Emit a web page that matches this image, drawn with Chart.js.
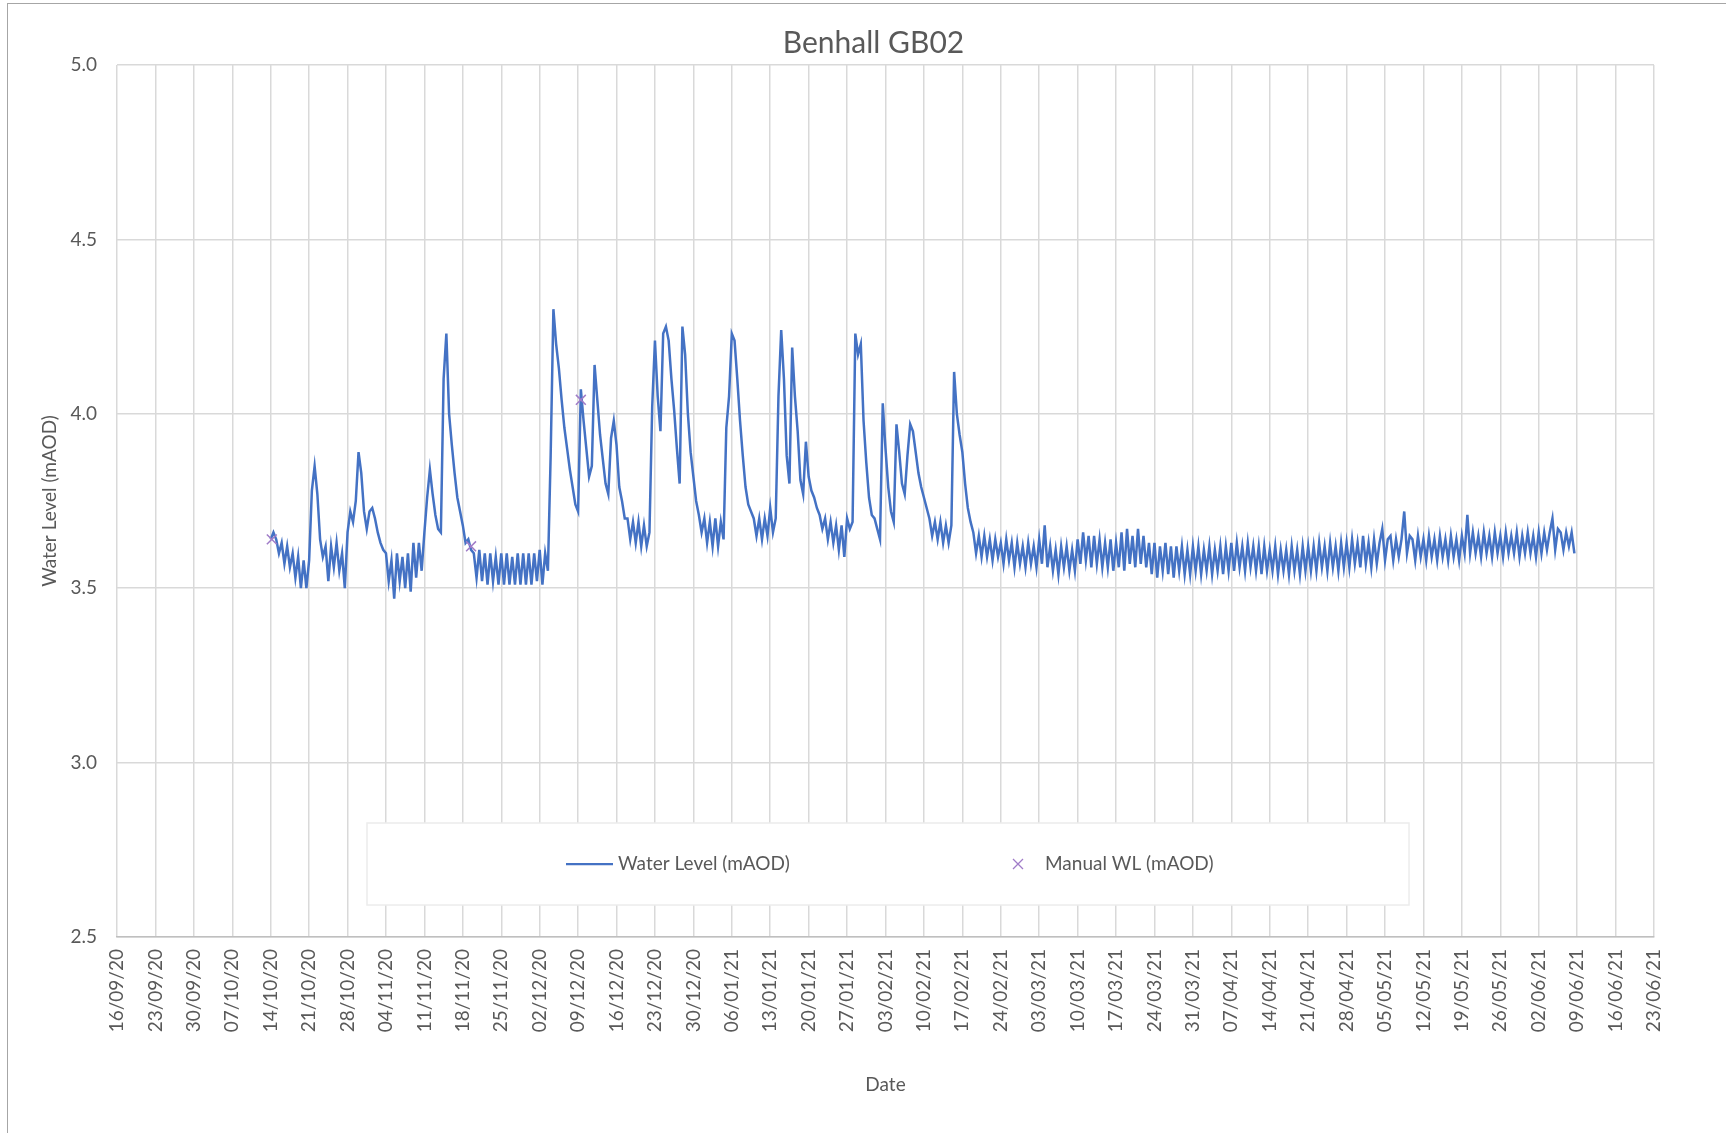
<!DOCTYPE html>
<html>
<head>
<meta charset="utf-8">
<title>Benhall GB02</title>
<script src="https://cdn.jsdelivr.net/npm/chart.js@4.4.0/dist/chart.umd.min.js"></script>
<style>
  html, body { margin: 0; padding: 0; background: #ffffff; overflow: hidden; }
  canvas { display: block; }
</style>
</head>
<body>
<canvas id="levelChart" width="1726" height="1133"></canvas>
<script>

// weekly date ticks, 16/09/20 .. 23/06/21 (x axis counts days from 16/09/20)
const tickLabels = [
  "16/09/20", "23/09/20", "30/09/20", "07/10/20", "14/10/20", "21/10/20",
  "28/10/20", "04/11/20", "11/11/20", "18/11/20", "25/11/20", "02/12/20",
  "09/12/20", "16/12/20", "23/12/20", "30/12/20", "06/01/21", "13/01/21",
  "20/01/21", "27/01/21", "03/02/21", "10/02/21", "17/02/21", "24/02/21",
  "03/03/21", "10/03/21", "17/03/21", "24/03/21", "31/03/21", "07/04/21",
  "14/04/21", "21/04/21", "28/04/21", "05/05/21", "12/05/21", "19/05/21",
  "26/05/21", "02/06/21", "09/06/21", "16/06/21", "23/06/21"
];

const yTicks = [2.5, 3.0, 3.5, 4.0, 4.5, 5.0];

const chartTitle = "Benhall GB02";

// logger readings, one every half day starting 14/10/20 (day 28)
const levelStartDay = 28;
const levelStepDays = 0.5;
const waterLevel = [
  3.64, 3.66, 3.64, 3.60, 3.63, 3.57, 3.62, 3.56, 3.60, 3.53, 3.59, 3.50, 3.58, 3.50,
  3.58, 3.78, 3.85, 3.77, 3.64, 3.59, 3.62, 3.52, 3.62, 3.56, 3.63, 3.55, 3.60, 3.50,
  3.66, 3.72, 3.69, 3.75, 3.89, 3.83, 3.72, 3.67, 3.72, 3.73, 3.70, 3.66, 3.63, 3.61,
  3.60, 3.52, 3.58, 3.47, 3.60, 3.52, 3.59, 3.50, 3.60, 3.49, 3.63, 3.53, 3.63, 3.55,
  3.66, 3.76, 3.84, 3.77, 3.71, 3.67, 3.66, 4.10, 4.23, 4.00, 3.91, 3.83, 3.76, 3.72,
  3.68, 3.63, 3.64, 3.61, 3.60, 3.53, 3.61, 3.52, 3.60, 3.51, 3.60, 3.52, 3.59, 3.51,
  3.60, 3.51, 3.60, 3.51, 3.59, 3.51, 3.60, 3.51, 3.60, 3.51, 3.60, 3.51, 3.60, 3.52,
  3.61, 3.51, 3.60, 3.55, 3.88, 4.30, 4.20, 4.13, 4.04, 3.96, 3.90, 3.84, 3.79, 3.74,
  3.72, 4.07, 3.98, 3.90, 3.82, 3.85, 4.14, 4.04, 3.94, 3.87, 3.80, 3.77, 3.93, 3.98,
  3.91, 3.79, 3.75, 3.70, 3.70, 3.64, 3.69, 3.63, 3.69, 3.62, 3.68, 3.62, 3.66, 4.02,
  4.21, 4.05, 3.95, 4.23, 4.25, 4.21, 4.10, 4.01, 3.90, 3.80, 4.25, 4.17, 4.00, 3.89,
  3.82, 3.75, 3.71, 3.66, 3.70, 3.63, 3.69, 3.62, 3.70, 3.62, 3.69, 3.64, 3.96, 4.05,
  4.23, 4.21, 4.10, 3.98, 3.88, 3.79, 3.74, 3.72, 3.70, 3.65, 3.70, 3.64, 3.70, 3.65,
  3.73, 3.66, 3.70, 4.05, 4.24, 4.10, 3.88, 3.80, 4.19, 4.05, 3.95, 3.81, 3.77, 3.92,
  3.82, 3.78, 3.76, 3.73, 3.71, 3.67, 3.70, 3.64, 3.69, 3.63, 3.68, 3.61, 3.68, 3.59,
  3.70, 3.67, 3.69, 4.23, 4.17, 4.20, 3.98, 3.86, 3.76, 3.71, 3.70, 3.67, 3.64, 4.03,
  3.90, 3.79, 3.72, 3.69, 3.97, 3.89, 3.80, 3.77, 3.88, 3.97, 3.95, 3.89, 3.83, 3.79,
  3.76, 3.73, 3.70, 3.65, 3.69, 3.64, 3.69, 3.63, 3.68, 3.63, 3.68, 4.12, 4.00, 3.94,
  3.89, 3.80, 3.73, 3.69, 3.66, 3.60, 3.65, 3.59, 3.65, 3.59, 3.64, 3.58, 3.64, 3.59,
  3.63, 3.57, 3.64, 3.58, 3.63, 3.56, 3.63, 3.57, 3.62, 3.56, 3.63, 3.57, 3.62, 3.56,
  3.64, 3.57, 3.68, 3.56, 3.62, 3.55, 3.61, 3.54, 3.62, 3.56, 3.62, 3.55, 3.61, 3.55,
  3.64, 3.57, 3.66, 3.58, 3.65, 3.56, 3.65, 3.57, 3.64, 3.56, 3.63, 3.56, 3.64, 3.55,
  3.63, 3.56, 3.66, 3.55, 3.67, 3.57, 3.65, 3.56, 3.67, 3.57, 3.65, 3.56, 3.63, 3.54,
  3.63, 3.53, 3.62, 3.55, 3.63, 3.54, 3.62, 3.53, 3.62, 3.55, 3.62, 3.54, 3.61, 3.54,
  3.62, 3.55, 3.62, 3.54, 3.61, 3.55, 3.62, 3.54, 3.61, 3.55, 3.62, 3.54, 3.62, 3.55,
  3.63, 3.55, 3.63, 3.56, 3.62, 3.55, 3.63, 3.56, 3.62, 3.55, 3.62, 3.54, 3.62, 3.55,
  3.61, 3.55, 3.62, 3.54, 3.61, 3.55, 3.61, 3.54, 3.62, 3.55, 3.61, 3.54, 3.62, 3.55,
  3.62, 3.55, 3.62, 3.55, 3.63, 3.56, 3.62, 3.55, 3.63, 3.56, 3.62, 3.55, 3.63, 3.56,
  3.63, 3.56, 3.64, 3.57, 3.63, 3.56, 3.65, 3.57, 3.63, 3.56, 3.64, 3.57, 3.63, 3.67,
  3.58, 3.64, 3.65, 3.58, 3.64, 3.59, 3.64, 3.72, 3.60, 3.65, 3.64, 3.58, 3.65, 3.59,
  3.64, 3.58, 3.65, 3.59, 3.64, 3.58, 3.65, 3.59, 3.64, 3.58, 3.65, 3.59, 3.64, 3.58,
  3.65, 3.60, 3.71, 3.60, 3.66, 3.60, 3.65, 3.59, 3.66, 3.60, 3.65, 3.59, 3.66, 3.60,
  3.65, 3.59, 3.66, 3.60, 3.65, 3.60, 3.66, 3.59, 3.65, 3.60, 3.66, 3.60, 3.65, 3.59,
  3.66, 3.60, 3.66, 3.61, 3.66, 3.70, 3.61, 3.67, 3.66, 3.61, 3.66, 3.62, 3.66, 3.60
];

// manual dips (day from 16/09/20, level)
const manualDays = [28.2, 64.5, 84.5];
const manualLevel = [3.64, 3.62, 4.04];

const seriesNames = ["Water Level (mAOD)", "Manual WL (mAOD)"];

const FONT = "Lato, 'Open Sans', sans-serif";
const TEXT = "#595959";
const GRID = "#d9d9d9";

const levelPoints = waterLevel.map((v, i) => ({
  x: levelStartDay + i * levelStepDays,
  y: v
}));

const manualPoints = manualDays.map((d, i) => ({
  x: d,
  y: manualLevel[i]
}));

// white page, thin frame and the title (Excel centres it a bit left of the plot)
const framePlugin = {
  id: "frame",
  beforeDraw(chart) {
    const ctx = chart.ctx;
    ctx.save();
    ctx.fillStyle = "#ffffff";
    ctx.fillRect(0, 0, chart.width, chart.height);
    ctx.strokeStyle = "#a6a6a6";
    ctx.lineWidth = 1;
    ctx.strokeRect(7.5, 3.5, chart.width + 40, chart.height + 40);

    const area = chart.chartArea;
    ctx.fillStyle = TEXT;
    ctx.font = "30px " + FONT;
    ctx.textAlign = "center";
    ctx.textBaseline = "middle";
    ctx.fillText(chartTitle, (area.left + area.right) / 2 - 12, 43);
    ctx.restore();
  }
};

// legend box sitting inside the plot, like the Excel one
const boxLegendPlugin = {
  id: "boxLegend",
  afterDraw(chart) {
    const ctx = chart.ctx;
    const area = chart.chartArea;
    const left = area.left + 250;
    const top = area.bottom - 114;
    const w = 1042;
    const h = 82;
    const midY = top + h / 2;

    ctx.save();
    ctx.fillStyle = "#ffffff";
    ctx.fillRect(left, top, w, h);
    ctx.strokeStyle = "#ececec";
    ctx.lineWidth = 1.5;
    ctx.strokeRect(left, top, w, h);

    const lineSet = chart.data.datasets[0];
    const markSet = chart.data.datasets[1];

    ctx.strokeStyle = lineSet.borderColor;
    ctx.lineWidth = 2.25;
    ctx.beginPath();
    ctx.moveTo(left + 199, midY);
    ctx.lineTo(left + 246, midY);
    ctx.stroke();

    const mx = left + 651;
    const r = 5;
    ctx.strokeStyle = markSet.borderColor;
    ctx.lineWidth = 1.3;
    ctx.beginPath();
    ctx.moveTo(mx - r, midY - r);
    ctx.lineTo(mx + r, midY + r);
    ctx.moveTo(mx + r, midY - r);
    ctx.lineTo(mx - r, midY + r);
    ctx.stroke();

    ctx.fillStyle = TEXT;
    ctx.font = "19px " + FONT;
    ctx.textBaseline = "middle";
    ctx.textAlign = "left";
    ctx.fillText(lineSet.label, left + 251, midY);
    ctx.fillText(markSet.label, left + 678, midY);
    ctx.restore();
  }
};

new Chart(document.getElementById("levelChart"), {
  type: "line",
  data: {
    datasets: [
      {
        label: seriesNames[0],
        data: levelPoints,
        borderColor: "#4472c4",
        backgroundColor: "#4472c4",
        borderWidth: 2.5,
        pointRadius: 0,
        tension: 0,
        fill: false,
        order: 1
      },
      {
        label: seriesNames[1],
        data: manualPoints,
        showLine: false,
        pointStyle: "crossRot",
        pointRadius: 7,
        borderColor: "#a07cc8",
        backgroundColor: "#a07cc8",
        pointBorderWidth: 1.5,
        order: 0
      }
    ]
  },
  options: {
    responsive: false,
    animation: false,
    layout: {
      padding: { left: 0, right: 72, top: 65, bottom: 0 }
    },
    plugins: {
      legend: { display: false },
      tooltip: { enabled: false },
      title: { display: false }
    },
    scales: {
      x: {
        type: "linear",
        min: 0,
        max: 280,
        afterFit(scale) {
          scale.height = 196;
        },
        ticks: {
          stepSize: 7,
          autoSkip: false,
          maxRotation: 90,
          minRotation: 90,
          padding: 12,
          color: TEXT,
          font: { family: FONT, size: 19 },
          callback: (v, i) => tickLabels[i]
        },
        grid: {
          color: GRID,
          lineWidth: 1.5,
          drawTicks: false
        },
        border: {
          color: "#bfbfbf",
          width: 1.5
        },
        title: {
          display: true,
          text: "Date",
          color: TEXT,
          font: { family: FONT, size: 19 },
          padding: { top: 0, bottom: 37 }
        }
      },
      y: {
        min: yTicks[0],
        max: yTicks[yTicks.length - 1],
        afterFit(scale) {
          scale.width = 117;
        },
        afterBuildTicks(scale) {
          scale.ticks = yTicks.map(v => ({ value: v }));
        },
        ticks: {
          padding: 20,
          color: TEXT,
          font: { family: FONT, size: 19 },
          callback: v => Number(v).toFixed(1)
        },
        grid: {
          color: GRID,
          lineWidth: 1.5,
          drawTicks: false
        },
        border: { display: false },
        title: {
          display: true,
          text: "Water Level (mAOD)",
          color: TEXT,
          font: { family: FONT, size: 19 },
          padding: { top: 38, bottom: 0 }
        }
      }
    }
  },
  plugins: [framePlugin, boxLegendPlugin]
});

</script>
</body>
</html>
